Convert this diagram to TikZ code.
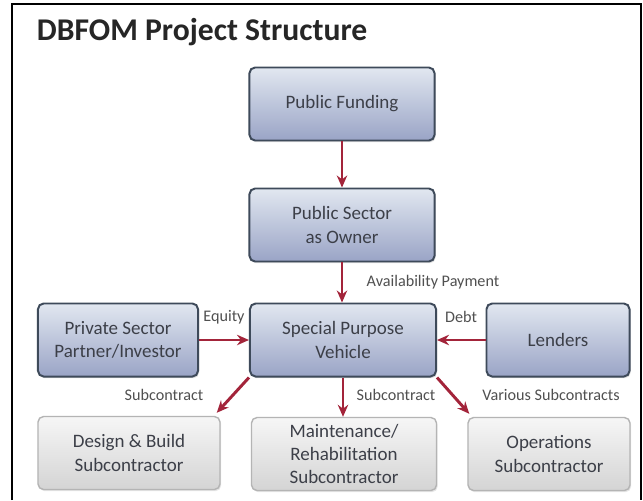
\documentclass[tikz,border=0pt]{standalone}
\usepackage{fontspec}
\setmainfont{Carlito}
\usetikzlibrary{arrows.meta,shadows}
\usepackage{xcolor}
\definecolor{boxtop}{HTML}{E2E7F0}
\definecolor{boxbot}{HTML}{99A4C6}
\definecolor{boxline}{HTML}{3E4A5A}
\definecolor{greytop}{HTML}{F6F6F6}
\definecolor{greybot}{HTML}{D4D4D4}
\definecolor{greyline}{HTML}{B4B4B4}
\definecolor{arrowred}{HTML}{A3243A}
\definecolor{boxtext}{HTML}{3C3F48}
\definecolor{lbltext}{HTML}{505050}

\begin{document}
\begin{tikzpicture}[
  x=0.025cm, y=-0.025cm,
  font=\fontsize{13.5}{16.5}\selectfont,
  box/.style={draw=boxline, line width=1.4pt, rounded corners=4pt, align=center,
    top color=boxtop, bottom color=boxbot, text=boxtext, minimum height=1.825cm,
    inner ysep=2pt,
    drop shadow={opacity=0.25, shadow xshift=0.8pt, shadow yshift=-1.2pt}},
  subbox/.style={draw=greyline, line width=1pt, rounded corners=4pt, align=center,
    top color=greytop, bottom color=greybot, text=boxtext, minimum height=1.825cm,
    inner ysep=2pt,
    drop shadow={opacity=0.2, shadow xshift=0.8pt, shadow yshift=-1.2pt}},
  arrow/.style={-{Stealth[length=3mm,width=2.6mm]}, line width=2.1pt, draw=arrowred},
  lbl/.style={font=\fontsize{11.5}{13}\selectfont, text=lbltext, inner sep=1pt}
]

\useasboundingbox (0,0) rectangle (643,500);
\fill[white] (0,0) rectangle (643,500);
\draw[line width=2pt] (12,500) -- (12,4) -- (641,4) -- (641,500);

\node[anchor=west, font=\fontsize{22.5}{26}\selectfont\bfseries, text=black!85] (title) at (32,32) {DBFOM Project Structure};

% top row
\node[box, minimum width=4.625cm] (funding) at (342,104) {Public Funding};
\node[box, minimum width=4.625cm] (owner) at (342,225) {Public Sector\\as Owner};

% middle row
\node[box, minimum width=4cm] (private) at (118,340) {Private Sector\\Partner/Investor};
\node[box, minimum width=4.65cm] (spv) at (343,340) {Special Purpose\\Vehicle};
\node[box, minimum width=3.575cm] (lenders) at (558,340) {Lenders};

% subcontractors
\node[subbox, minimum width=4.55cm] (design) at (129,453) {Design \& Build\\Subcontractor};
\node[subbox, minimum width=4.625cm] (maint) at (344,454) {Maintenance/\\Rehabilitation\\Subcontractor};
\node[subbox, minimum width=4.05cm] (ops) at (549,454) {Operations\\Subcontractor};

\draw[arrow] (funding.south) -- (owner.north);
\draw[arrow] (owner.south) -- (owner.south |- spv.north);
\draw[arrow] (private.east) -- (spv.west);
\draw[arrow] (lenders.west) -- (spv.east);
\draw[arrow] (spv.south west) -- ([shift={(-4,-3)}]design.north east);
\draw[arrow] (spv.south) -- (spv.south |- maint.north);
\draw[arrow] (spv.south east) -- ([shift={(2,-3)}]ops.north west);

\node[lbl] (lavail) at (433,282) {Availability Payment};
\node[lbl] (lequity) at (224,317) {Equity};
\node[lbl] (ldebt) at (461,317) {Debt};
\node[lbl] (lsubl) at (164,395) {Subcontract};
\node[lbl] (lsubm) at (396,395) {Subcontract};
\node[lbl] (lvarious) at (551,395) {Various Subcontracts};

\end{tikzpicture}
\end{document}
